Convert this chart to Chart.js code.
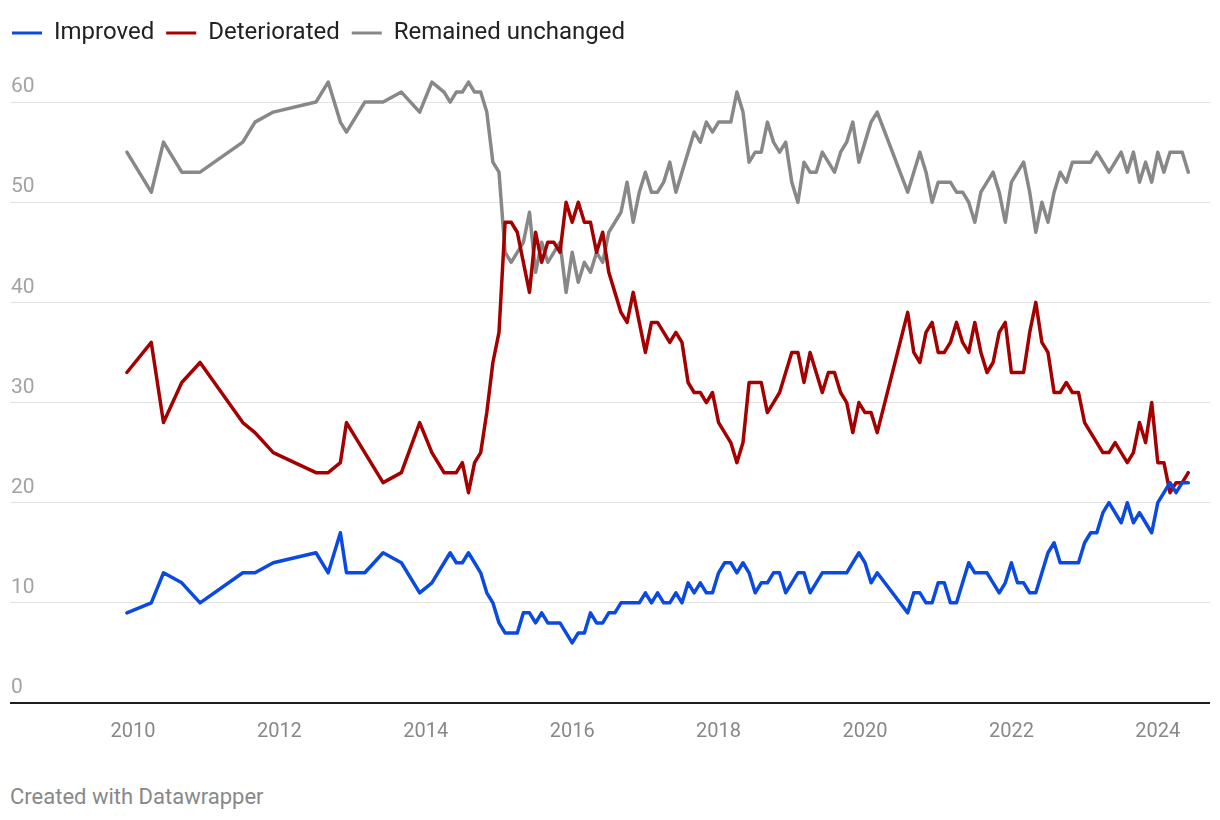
<!DOCTYPE html>
<html>
<head>
<meta charset="utf-8">
<script src="https://cdn.jsdelivr.net/npm/chart.js@4.4.1/dist/chart.umd.min.js"></script>
<style>
  html, body { margin: 0; padding: 0; background: #fff; }
  .wrap { position: relative; width: 1220px; height: 820px; }
  #chart { display: block; }
  .credit { position: absolute; left: 10px; top: 784px; font: 22px Roboto, sans-serif; line-height: 26px; color: #888; }
</style>
</head>
<body>
<div class="wrap">
  <canvas id="chart" width="1220" height="760"></canvas>
  <div class="credit">Created with Datawrapper</div>
</div>
<script>
// survey months (quarterly-ish at first, then monthly, gap in spring 2020)
const months = [
  '2009-12', '2010-04', '2010-06', '2010-09', '2010-12', '2011-07', '2011-09', '2011-12',
  '2012-07', '2012-09', '2012-11', '2012-12', '2013-03', '2013-06', '2013-09', '2013-12', '2014-02',
  '2014-04', '2014-05', '2014-06', '2014-07', '2014-08', '2014-09', '2014-10', '2014-11', '2014-12',
  '2015-01', '2015-02', '2015-03', '2015-04', '2015-05', '2015-06', '2015-07', '2015-08', '2015-09', '2015-10', '2015-11', '2015-12',
  '2016-01', '2016-02', '2016-03', '2016-04', '2016-05', '2016-06', '2016-07', '2016-08', '2016-09', '2016-10', '2016-11', '2016-12',
  '2017-01', '2017-02', '2017-03', '2017-04', '2017-05', '2017-06', '2017-07', '2017-08', '2017-09', '2017-10', '2017-11', '2017-12',
  '2018-01', '2018-02', '2018-03', '2018-04', '2018-05', '2018-06', '2018-07', '2018-08', '2018-09', '2018-10', '2018-11', '2018-12',
  '2019-01', '2019-02', '2019-03', '2019-04', '2019-05', '2019-06', '2019-07', '2019-08', '2019-09', '2019-10', '2019-11', '2019-12',
  '2020-01', '2020-02', '2020-03',
  '2020-08', '2020-09', '2020-10', '2020-11', '2020-12',
  '2021-01', '2021-02', '2021-03', '2021-04', '2021-05', '2021-06', '2021-07', '2021-08', '2021-09', '2021-10', '2021-11', '2021-12',
  '2022-01', '2022-02', '2022-03', '2022-04', '2022-05', '2022-06', '2022-07', '2022-08', '2022-09', '2022-10', '2022-11', '2022-12',
  '2023-01', '2023-02', '2023-03', '2023-04', '2023-05', '2023-06', '2023-07', '2023-08', '2023-09', '2023-10', '2023-11', '2023-12',
  '2024-01', '2024-02', '2024-03', '2024-04', '2024-05', '2024-06'
];

const improved = [
  9, 10, 13, 12, 10, 13, 13, 14,
  15, 13, 17, 13, 13, 15, 14, 11, 12,
  14, 15, 14, 14, 15, 14, 13, 11, 10,
  8, 7, 7, 7, 9, 9, 8, 9, 8, 8, 8, 7,
  6, 7, 7, 9, 8, 8, 9, 9, 10, 10, 10, 10,
  11, 10, 11, 10, 10, 11, 10, 12, 11, 12, 11, 11,
  13, 14, 14, 13, 14, 13, 11, 12, 12, 13, 13, 11,
  12, 13, 13, 11, 12, 13, 13, 13, 13, 13, 14, 15,
  14, 12, 13,
  9, 11, 11, 10, 10,
  12, 12, 10, 10, 12, 14, 13, 13, 13, 12, 11, 12,
  14, 12, 12, 11, 11, 13, 15, 16, 14, 14, 14, 14,
  16, 17, 17, 19, 20, 19, 18, 20, 18, 19, 18, 17,
  20, 21, 22, 21, 22, 22
];

const deteriorated = [
  33, 36, 28, 32, 34, 28, 27, 25,
  23, 23, 24, 28, 25, 22, 23, 28, 25,
  23, 23, 23, 24, 21, 24, 25, 29, 34,
  37, 48, 48, 47, 44, 41, 47, 44, 46, 46, 45, 50,
  48, 50, 48, 48, 45, 47, 43, 41, 39, 38, 41, 38,
  35, 38, 38, 37, 36, 37, 36, 32, 31, 31, 30, 31,
  28, 27, 26, 24, 26, 32, 32, 32, 29, 30, 31, 33,
  35, 35, 32, 35, 33, 31, 33, 33, 31, 30, 27, 30,
  29, 29, 27,
  39, 35, 34, 37, 38,
  35, 35, 36, 38, 36, 35, 38, 35, 33, 34, 37, 38,
  33, 33, 33, 37, 40, 36, 35, 31, 31, 32, 31, 31,
  28, 27, 26, 25, 25, 26, 25, 24, 25, 28, 26, 30,
  24, 24, 21, 22, 22, 23
];

const unchanged = [
  55, 51, 56, 53, 53, 56, 58, 59,
  60, 62, 58, 57, 60, 60, 61, 59, 62,
  61, 60, 61, 61, 62, 61, 61, 59, 54,
  53, 45, 44, 45, 46, 49, 43, 46, 44, 45, 46, 41,
  45, 42, 44, 43, 45, 44, 47, 48, 49, 52, 48, 51,
  53, 51, 51, 52, 54, 51, 53, 55, 57, 56, 58, 57,
  58, 58, 58, 61, 59, 54, 55, 55, 58, 56, 55, 56,
  52, 50, 54, 53, 53, 55, 54, 53, 55, 56, 58, 54,
  56, 58, 59,
  51, 53, 55, 53, 50,
  52, 52, 52, 51, 51, 50, 48, 51, 52, 53, 51, 48,
  52, 53, 54, 51, 47, 50, 48, 51, 53, 52, 54, 54,
  54, 54, 55, 54, 53, 54, 55, 53, 55, 52, 54, 52,
  55, 53, 55, 55, 55, 53
];

const xTicks = [2010, 2012, 2014, 2016, 2018, 2020, 2022, 2024];
const yTicks = [0, 10, 20, 30, 40, 50, 60];

function toYear(m) {
  const [y, mo] = m.split('-').map(Number);
  return y + (mo - 1) / 12;
}
function points(values) {
  return values.map((v, i) => ({x: toYear(months[i]), y: v}));
}

Chart.defaults.font.family = 'Roboto';

const ctx = document.getElementById('chart').getContext('2d');
new Chart(ctx, {
  type: 'line',
  data: {
    datasets: [
      {label: 'Improved', data: points(improved), borderColor: '#0a4ae0', backgroundColor: '#0a4ae0'},
      {label: 'Deteriorated', data: points(deteriorated), borderColor: '#a50000', backgroundColor: '#a50000'},
      {label: 'Remained unchanged', data: points(unchanged), borderColor: '#888888', backgroundColor: '#888888'}
    ]
  },
  options: {
    responsive: false,
    animation: false,
    devicePixelRatio: 1,
    elements: {
      line: {borderWidth: 3.5, tension: 0, borderJoinStyle: 'round', borderCapStyle: 'round'},
      point: {radius: 0, hoverRadius: 0}
    },
    layout: {padding: {top: 9, left: 0, right: 10, bottom: 0}},
    scales: {
      x: {
        type: 'linear',
        min: 2008.32,
        max: 2024.713,
        afterBuildTicks: s => { s.ticks = xTicks.map(v => ({value: v})); },
        afterFit: s => { s.height = 57; },
        grid: {display: false, drawTicks: false},
        border: {display: false},
        ticks: {
          padding: 17,
          color: '#888',
          font: {size: 20},
          maxRotation: 0,
          autoSkip: false,
          callback: v => String(v)
        }
      },
      y: {
        min: 0,
        max: 64.7,
        afterBuildTicks: s => { s.ticks = yTicks.map(v => ({value: v})); },
        afterFit: s => { s.width = 10; },
        grid: {
          drawTicks: false,
          color: c => (c.tick && c.tick.value === 0 ? '#1e1e1e' : '#e3e3e3'),
          lineWidth: c => (c.tick && c.tick.value === 0 ? 2 : 1)
        },
        border: {display: false},
        ticks: {
          mirror: true,
          padding: 1,
          labelOffset: -15,
          color: '#a3a3a3',
          font: {size: 21}
        }
      }
    },
    plugins: {
      legend: {
        position: 'top',
        align: 'start',
        labels: {
          boxWidth: 30,
          boxHeight: 3,
          padding: 12,
          color: '#222',
          font: {size: 24},
          generateLabels: chart => Chart.defaults.plugins.legend.labels.generateLabels(chart).map(l => {
            const ds = chart.data.datasets[l.datasetIndex];
            return Object.assign(l, {fillStyle: ds.borderColor, strokeStyle: ds.borderColor, lineWidth: 0});
          })
        }
      },
      tooltip: {enabled: false}
    }
  }
});
</script>
</body>
</html>
